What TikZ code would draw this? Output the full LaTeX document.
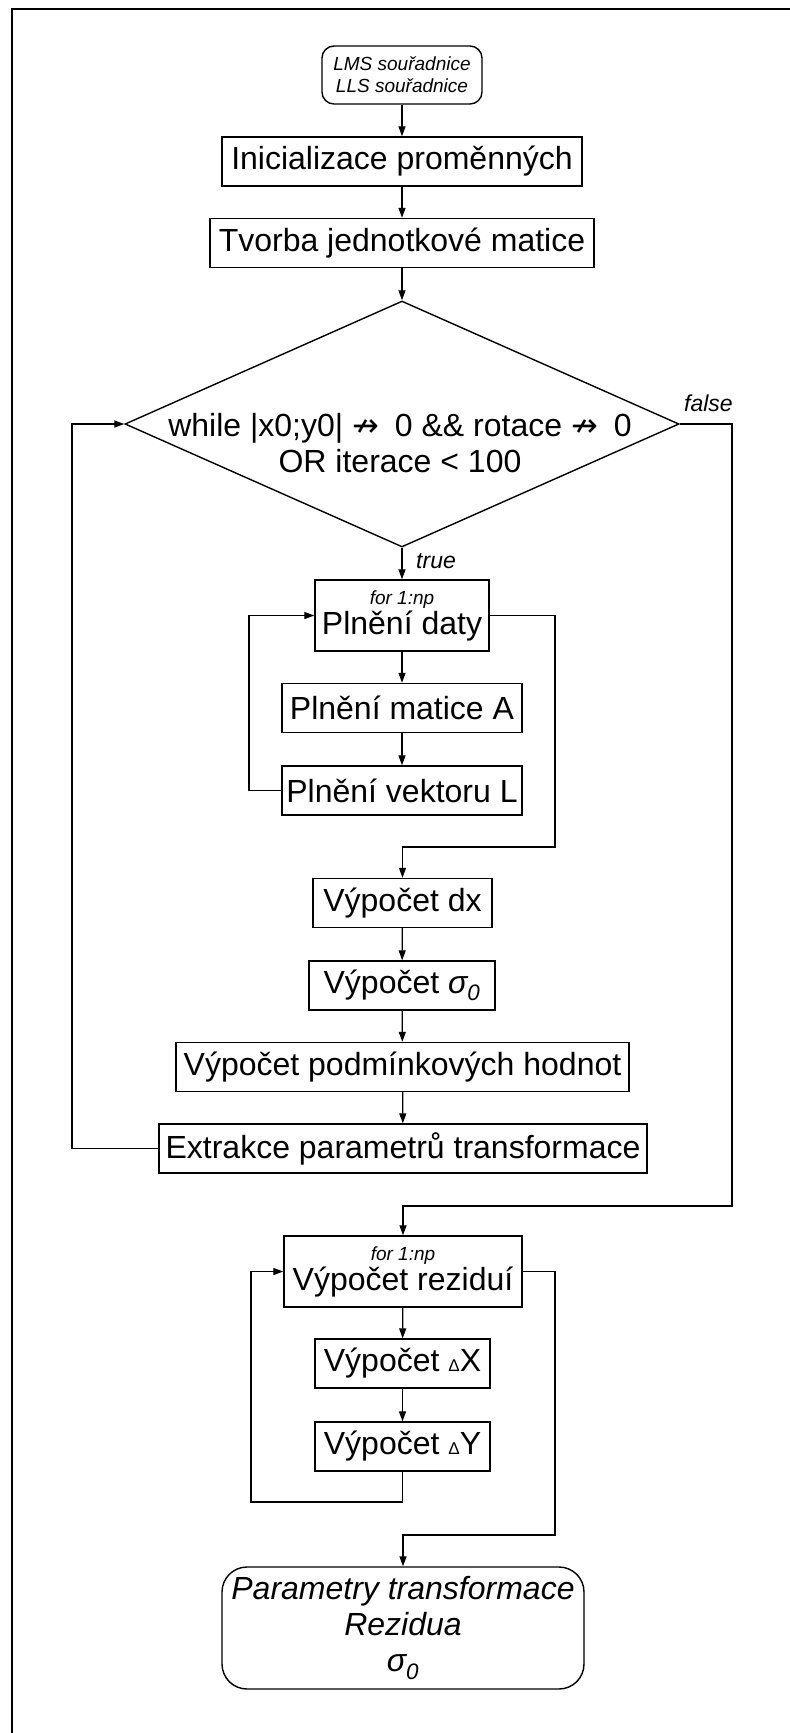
\documentclass[tikz,border=0pt]{standalone}
\usepackage{fontspec}
\setmainfont{Liberation Sans}
\newfontfamily\arrowfont{DejaVu Sans}
\usetikzlibrary{shapes.geometric,arrows.meta}

% text sizes (1pt = one unit of the drawing)
\newcommand{\txtbig}{\fontsize{32}{36}\selectfont}
\newcommand{\txtlab}{\fontsize{23}{26}\selectfont\itshape}
\newcommand{\txtsmall}{\fontsize{19}{22}\selectfont\itshape}
\newcommand{\sigmazero}{{\itshape σ\textsubscript{0}}}
\newcommand{\smalldelta}{{\fontsize{17}{17}\selectfont Δ}}
\newcommand{\notto}{{\arrowfont ↛}}

\tikzset{
  box/.style={draw, line width=1.4pt, inner sep=0pt, minimum height=49pt, font=\txtbig},
  terminal/.style={box, rounded corners=12pt, align=center},
  flow/.style={line width=1.3pt, -{Triangle[length=10pt,width=7pt]}},
  frame/.style={line width=2pt},
}

\begin{document}
\begin{tikzpicture}[x=1pt, y=-1pt]
\useasboundingbox (0,0) rectangle (790,1733);

% outer frame (top and left edges)
\draw[frame] (12,1733) -- (12,9) -- (790,9);

% main sequence
\node[terminal, minimum width=160pt, minimum height=58pt, font=\txtsmall] (start) at (402,75)
  {LMS souřadnice\\LLS souřadnice};
\node[box, minimum width=360pt] (init) at (402,161.5) {Inicializace proměnných};
\node[box, minimum width=384pt] (unit) at (402,243) {Tvorba jednotkové matice};

\node[draw, diamond, line width=1.4pt, minimum width=554pt, minimum height=246pt, inner sep=0pt] (cond) at (402,424) {};
\node[font=\txtbig, align=center, inner sep=0pt] (condtext) at (400,443)
  {while |x0;y0| \notto\enspace 0 \&\& rotace \notto\enspace 0\\OR iterace < 100};
\node[font=\txtlab, anchor=base west, inner sep=0pt] (lfalse) at (684,411) {false};
\node[font=\txtlab, anchor=base west, inner sep=0pt] (ltrue) at (416,568) {true};

% inner loop over points
\node[box, minimum width=174pt, minimum height=71pt, align=center] (fill) at (402,615.5)
  {{\txtsmall for 1:np}\\[-6pt]Plnění daty};
\node[box, minimum width=240pt] (matA) at (402,708) {Plnění matice A};
\node[box, minimum width=240pt] (vecL) at (402,790.5) {Plnění vektoru L};

\node[box, minimum width=179pt] (dx) at (402.5,903) {Výpočet dx};
\node[box, minimum width=186pt] (sig) at (402,985.5) {Výpočet \sigmazero};
\node[box, minimum width=453pt] (cond2) at (402.5,1067) {Výpočet podmínkových hodnot};
\node[box, minimum width=488pt] (extr) at (403,1148.5) {Extrakce parametrů transformace};

% residual loop
\node[box, minimum width=238pt, minimum height=71pt, align=center] (res) at (403,1271.5)
  {{\txtsmall for 1:np}\\[-6pt]Výpočet reziduí};
\node[box, minimum width=175pt] (dX) at (402.5,1363.5) {Výpočet \smalldelta X};
\node[box, minimum width=175pt] (dY) at (402.5,1446.5) {Výpočet \smalldelta Y};

\node[box, rounded corners=25pt, minimum width=362pt, minimum height=122pt, align=center,
      font=\txtbig\itshape] (out) at (403,1628)
  {Parametry transformace\\Rezidua\\σ\textsubscript{0}};

% bend points of the connectors
\coordinate (lj1) at (72,424);
\coordinate (rj2) at (732,1206);
\coordinate (lj3) at (249,790.5);
\coordinate (rj1) at (555,847);
\coordinate (lj2) at (251,1502);
\coordinate (rj3) at (555,1535);

% connectors
\draw[flow] (start) -- (init);
\draw[flow] (init) -- (unit);
\draw[flow] (unit) -- (cond.north);
\draw[flow] (cond.south) -- (fill.north);
\draw[flow] (fill) -- (matA);
\draw[flow] (matA) -- (vecL);
\draw[flow] (vecL.west) -- (lj3) |- (fill.west);
\draw[flow] (fill.east) -| (rj1) -| (dx.north);
\draw[flow] (dx) -- (sig);
\draw[flow] (sig) -- (cond2);
\draw[flow] (cond2) -- (extr);
\draw[flow] (extr.west) -| (lj1) -- (cond.west);
\draw[flow] (cond.east) -| (rj2) -| (res.north);
\draw[flow] (res) -- (dX);
\draw[flow] (dX) -- (dY);
\draw[flow] (dY.south) |- (lj2) |- (res.west);
\draw[flow] (res.east) -| (rj3) -| (out.north);
\end{tikzpicture}
\end{document}
